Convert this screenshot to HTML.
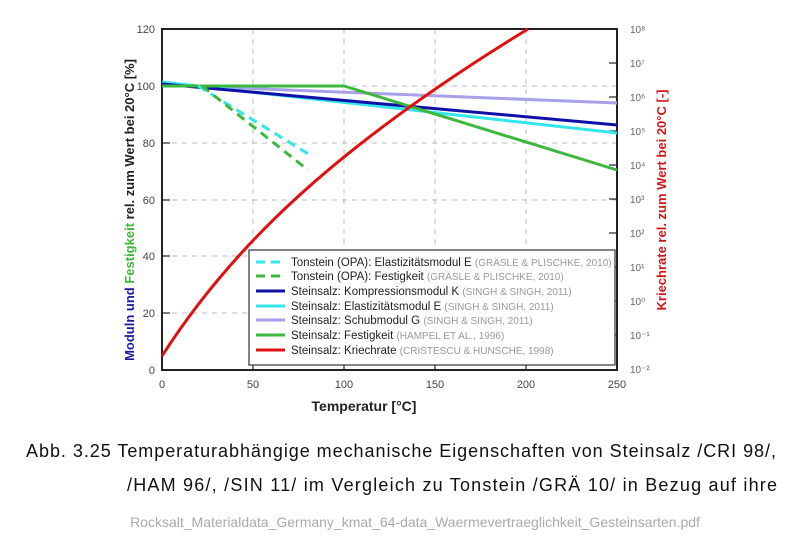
<!DOCTYPE html>
<html><head><meta charset="utf-8"><style>
body{margin:0;background:#fff;width:800px;height:546px;overflow:hidden;font-family:"Liberation Sans",sans-serif}
</style></head><body>
<svg width="800" height="546" xmlns="http://www.w3.org/2000/svg" font-family="Liberation Sans, sans-serif">
<g stroke="#bbb" stroke-dasharray="5,5" stroke-width="1">
<line x1="253" y1="29" x2="253" y2="370"/><line x1="344" y1="29" x2="344" y2="370"/><line x1="435" y1="29" x2="435" y2="370"/><line x1="526" y1="29" x2="526" y2="370"/>
<line x1="162" y1="86" x2="617" y2="86"/><line x1="162" y1="143" x2="617" y2="143"/><line x1="162" y1="200" x2="617" y2="200"/><line x1="162" y1="256" x2="617" y2="256"/><line x1="162" y1="313" x2="617" y2="313"/>
</g>
<rect x="162" y="29" width="455" height="341" fill="none" stroke="#222" stroke-width="2"/>
<g stroke="#222" stroke-width="1.2">
<line x1="253" y1="370" x2="253" y2="362"/><line x1="344" y1="370" x2="344" y2="362"/><line x1="435" y1="370" x2="435" y2="362"/><line x1="526" y1="370" x2="526" y2="362"/>
<line x1="162" y1="86" x2="170" y2="86"/><line x1="162" y1="143" x2="170" y2="143"/><line x1="162" y1="200" x2="170" y2="200"/><line x1="162" y1="256" x2="170" y2="256"/><line x1="162" y1="313" x2="170" y2="313"/>
<line x1="609" y1="63" x2="617" y2="63"/><line x1="609" y1="97" x2="617" y2="97"/><line x1="609" y1="131" x2="617" y2="131"/><line x1="609" y1="165" x2="617" y2="165"/><line x1="609" y1="199" x2="617" y2="199"/><line x1="609" y1="233" x2="617" y2="233"/><line x1="609" y1="267" x2="617" y2="267"/><line x1="609" y1="301" x2="617" y2="301"/><line x1="609" y1="335" x2="617" y2="335"/>
</g>
<g fill="none" stroke-width="3" stroke-linejoin="round">
<polyline points="162,85 617,103" stroke="#a7a2e8"/>
<polyline points="162,82 617,133" stroke="#33e6ea"/>
<polyline points="162,84 617,125" stroke="#1010a8"/>
<polyline points="162,86 344,86 617,170" stroke="#3cb83c"/>
<polyline points="198,86 310,155" stroke="#33e6ea" stroke-dasharray="9,6"/>
<polyline points="202,86 308,170" stroke="#3cb83c" stroke-dasharray="9,6"/>
<path d="M162,356 C230,250 330,150 528,29" stroke="#e01010"/>
</g>
<g font-size="11" fill="#444" text-anchor="end">
<text x="155" y="33">120</text><text x="155" y="90">100</text><text x="155" y="147">80</text><text x="155" y="204">60</text><text x="155" y="260">40</text><text x="155" y="317">20</text><text x="155" y="374">0</text>
</g>
<g font-size="11" fill="#444" text-anchor="middle">
<text x="162" y="388">0</text><text x="253" y="388">50</text><text x="344" y="388">100</text><text x="435" y="388">150</text><text x="526" y="388">200</text><text x="617" y="388">250</text>
</g>
<g font-size="10" fill="#666">
<text x="630" y="33">10⁸</text><text x="630" y="67">10⁷</text><text x="630" y="101">10⁶</text><text x="630" y="135">10⁵</text><text x="630" y="169">10⁴</text><text x="630" y="203">10³</text><text x="630" y="237">10²</text><text x="630" y="271">10¹</text><text x="630" y="305">10⁰</text><text x="630" y="339">10⁻¹</text><text x="630" y="373">10⁻²</text>
</g>
<text x="364" y="411" font-size="14" font-weight="bold" fill="#222" text-anchor="middle">Temperatur   [°C]</text>
<text transform="translate(134,210) rotate(-90)" font-size="13" font-weight="bold" text-anchor="middle"><tspan fill="#1a1aa0">Moduln und </tspan><tspan fill="#3cb83c">Festigkeit</tspan><tspan fill="#222"> rel. zum Wert bei 20°C   [%]</tspan></text>
<text transform="translate(666,200) rotate(-90)" font-size="13" font-weight="bold" fill="#d01818" text-anchor="middle">Kriechrate rel. zum Wert bei 20°C  [-]</text>
<rect x="249" y="250" width="366" height="115" fill="#fff" stroke="#333" stroke-width="1.2"/>
<g stroke-width="3">
<line x1="256" y1="262" x2="285" y2="262" stroke="#33e6ea" stroke-dasharray="9,6"/>
<line x1="256" y1="276" x2="285" y2="276" stroke="#3cb83c" stroke-dasharray="9,6"/>
<line x1="256" y1="291" x2="285" y2="291" stroke="#1010a8"/>
<line x1="256" y1="306" x2="285" y2="306" stroke="#33e6ea"/>
<line x1="256" y1="320" x2="285" y2="320" stroke="#a7a2e8"/>
<line x1="256" y1="335" x2="285" y2="335" stroke="#3cb83c"/>
<line x1="256" y1="350" x2="285" y2="350" stroke="#e01010"/>
</g>
<g font-size="11.5" fill="#222">
<text x="291" y="266">Tonstein (OPA): Elastizitätsmodul E <tspan fill="#999" font-size="10">  (GRÄSLE &amp; PLISCHKE, 2010)</tspan></text>
<text x="291" y="280">Tonstein (OPA): Festigkeit <tspan fill="#999" font-size="10">  (GRÄSLE &amp; PLISCHKE, 2010)</tspan></text>
<text x="291" y="295">Steinsalz: Kompressionsmodul K <tspan fill="#999" font-size="10">  (SINGH &amp; SINGH, 2011)</tspan></text>
<text x="291" y="310">Steinsalz: Elastizitätsmodul E <tspan fill="#999" font-size="10">  (SINGH &amp; SINGH, 2011)</tspan></text>
<text x="291" y="324">Steinsalz: Schubmodul G <tspan fill="#999" font-size="10">  (SINGH &amp; SINGH, 2011)</tspan></text>
<text x="291" y="339">Steinsalz: Festigkeit <tspan fill="#999" font-size="10">  (HAMPEL ET AL., 1996)</tspan></text>
<text x="291" y="354">Steinsalz: Kriechrate <tspan fill="#999" font-size="10">  (CRISTESCU &amp; HUNSCHE, 1998)</tspan></text>
</g>
<g font-size="18" fill="#111">
<text x="26" y="457" textLength="750" lengthAdjust="spacing">Abb. 3.25   Temperaturabhängige mechanische Eigenschaften von Steinsalz /CRI 98/,</text>
<text x="127" y="491" textLength="650" lengthAdjust="spacing">/HAM 96/,  /SIN 11/  im  Vergleich  zu  Tonstein  /GRÄ 10/  in  Bezug  auf  ihre</text>
</g>
<text x="415" y="527" font-size="14" fill="#aaa" text-anchor="middle">Rocksalt_Materialdata_Germany_kmat_64-data_Waermevertraeglichkeit_Gesteinsarten.pdf</text>
</svg>
</body></html>
